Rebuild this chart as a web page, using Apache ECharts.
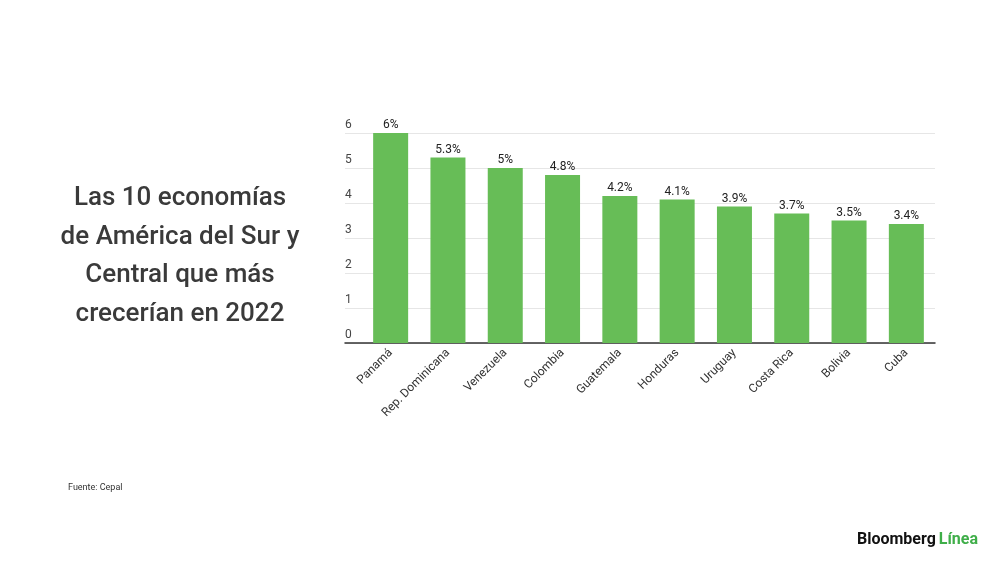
<!DOCTYPE html>
<html>
<head>
<meta charset="utf-8">
<script src="https://cdn.jsdelivr.net/npm/echarts@6/dist/echarts.min.js"></script>
<style>
  html, body { margin: 0; padding: 0; background: #ffffff; }
  #chart { width: 1000px; height: 562px; }
</style>
</head>
<body>
<div id="chart"></div>
<script>
// Chart data
var paises = ["Panamá", "Rep. Dominicana", "Venezuela", "Colombia", "Guatemala",
              "Honduras", "Uruguay", "Costa Rica", "Bolivia", "Cuba"];
var crecimiento = [6, 5.3, 5, 4.8, 4.2, 4.1, 3.9, 3.7, 3.5, 3.4];
var yTicks = [0, 1, 2, 3, 4, 5, 6];

var titulo = "Las 10 economías\nde América del Sur y\nCentral que más\ncrecerían en 2022";
var fuente = "Fuente: Cepal";

var barColor = "#67bd57";
var fontFam = "Roboto, 'Noto Sans', sans-serif";

var myChart = echarts.init(document.getElementById('chart'));

var option = {
  backgroundColor: "#ffffff",
  animation: false,
  graphic: [
    {
      type: 'text',
      x: 180,
      y: 179,
      style: {
        text: titulo,
        textAlign: 'center',
        fontFamily: fontFam,
        fontSize: 26,
        fontWeight: 500,
        lineHeight: 38.7,
        fill: '#3a3a3a'
      }
    },
    {
      type: 'text',
      x: 68,
      y: 483,
      style: {
        text: fuente,
        fontFamily: fontFam,
        fontSize: 9,
        fill: '#333333'
      }
    },
    {
      type: 'text',
      x: 857,
      y: 532,
      style: {
        text: '{b|Bloomberg} {l|Línea}',
        fontFamily: fontFam,
        rich: {
          b: { fontFamily: fontFam, fontSize: 16, fontWeight: 'bold', fill: '#111111', color: '#111111' },
          l: { fontFamily: fontFam, fontSize: 16, fontWeight: 'bold', fill: '#3fae49', color: '#3fae49' }
        }
      }
    }
  ],
  grid: [
    // background grid: gridlines and baseline span the full width
    { left: 345, right: 65, top: 133, bottom: 219 },
    // bars
    { left: 362, right: 65, top: 133, bottom: 219 }
  ],
  xAxis: [
    {
      gridIndex: 0,
      type: 'value',
      min: 0,
      max: 1,
      axisLine: { show: true, onZero: false, lineStyle: { color: '#333333', width: 1.5 } },
      axisTick: { show: false },
      axisLabel: { show: false },
      splitLine: { show: false }
    },
    {
      gridIndex: 1,
      type: 'category',
      data: paises,
      axisLine: { show: false },
      axisTick: { show: false },
      axisLabel: {
        rotate: 45,
        interval: 0,
        margin: 8,
        fontFamily: fontFam,
        fontSize: 12,
        color: '#333333'
      }
    }
  ],
  yAxis: [
    {
      gridIndex: 0,
      type: 'value',
      min: yTicks[0],
      max: yTicks[yTicks.length - 1],
      interval: 1,
      axisLine: { show: false },
      axisTick: { show: false },
      axisLabel: {
        inside: true,
        margin: 0,
        align: 'left',
        verticalAlign: 'bottom',
        padding: [0, 0, 2, 0],
        fontFamily: fontFam,
        fontSize: 12,
        color: '#444444'
      },
      splitLine: { lineStyle: { color: '#e6e6e6', width: 1 } }
    },
    {
      gridIndex: 1,
      type: 'value',
      min: yTicks[0],
      max: yTicks[yTicks.length - 1],
      interval: 1,
      show: false,
      splitLine: { show: false }
    }
  ],
  series: [
    {
      type: 'bar',
      xAxisIndex: 1,
      yAxisIndex: 1,
      data: crecimiento,
      barWidth: 35,
      itemStyle: { color: barColor },
      label: {
        show: true,
        position: 'top',
        distance: 2,
        formatter: function (p) { return p.value + '%'; },
        fontFamily: fontFam,
        fontSize: 12,
        color: '#222222'
      }
    }
  ]
};

myChart.setOption(option);
</script>
</body>
</html>
